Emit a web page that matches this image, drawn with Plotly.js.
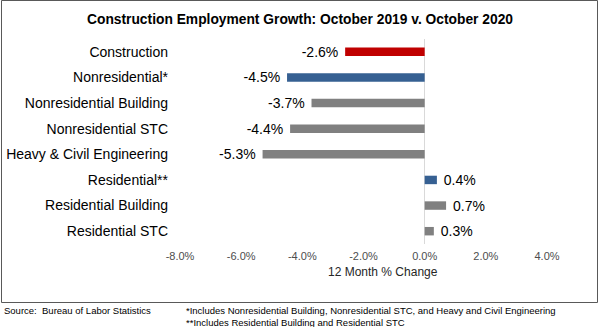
<!DOCTYPE html>
<html>
<head>
<meta charset="utf-8">
<script src="https://cdn.plot.ly/plotly-3.0.1.min.js"></script>
<style>
  html, body { margin: 0; padding: 0; background: #ffffff; }
  #chart { width: 600px; height: 327px; }
</style>
</head>
<body>
<div id="chart"></div>
<script>
// ---- Data ----
const categories = [
  'Construction',
  'Nonresidential*',
  'Nonresidential Building',
  'Nonresidential STC',
  'Heavy & Civil Engineering',
  'Residential**',
  'Residential Building',
  'Residential STC'
];
const values = [-2.6, -4.5, -3.7, -4.4, -5.3, 0.4, 0.7, 0.3];
const groups = ['total', 'sector', 'sub', 'sub', 'sub', 'sector', 'sub', 'sub'];
const tickVals = [-8, -6, -4, -2, 0, 2, 4];

const titleText = 'Construction Employment Growth: October 2019 v. October 2020';
const xTitleText = '12 Month % Change';
const sourceText = 'Source:  Bureau of Labor Statistics';
const note1Text = '*Includes Nonresidential Building, Nonresidential STC, and Heavy and Civil Engineering';
const note2Text = '**Includes Residential Building and Residential STC';

// ---- Styling ----
const groupColors = { total: '#C00000', sector: '#366092', sub: '#808080' };
const FONT = '"Liberation Sans", Arial, sans-serif';

const barColors = groups.map(g => groupColors[g]);
const barText = values.map(v => {
  const s = v.toFixed(1) + '%';
  return v < 0 ? s + '\u00a0' : '\u00a0' + s;
});
const tickText = tickVals.map(v => v.toFixed(1) + '%');

// plot area geometry (pixels) for paper conversions
const W = 600, H = 327;
const mL = 180, mR = 53, mT = 39, mB = 83;
const pw = W - mL - mR, ph = H - mT - mB;
const px = x => (x - mL) / pw;
const py = y => (H - mB - y) / ph;

const trace = {
  type: 'bar',
  orientation: 'h',
  y: categories,
  x: values,
  width: 0.33,
  marker: { color: barColors, line: { width: 0 } },
  text: barText,
  textposition: 'outside',
  constraintext: 'none',
  cliponaxis: false,
  textfont: { family: FONT, size: 14, color: '#000000' },
  hoverinfo: 'none'
};

const layout = {
  width: W,
  height: H,
  margin: { l: mL, r: mR, t: mT, b: mB, pad: 0 },
  paper_bgcolor: '#ffffff',
  plot_bgcolor: '#ffffff',
  showlegend: false,
  font: { family: FONT, color: '#000000' },
  title: {
    text: '<b>' + titleText + '</b>',
    font: { family: FONT, size: 13.8, color: '#000000' },
    xref: 'paper',
    x: px(300),
    xanchor: 'center',
    yref: 'container',
    y: 1 - 19 / H,
    yanchor: 'middle'
  },
  xaxis: {
    range: [-8, 4],
    tickmode: 'array',
    tickvals: tickVals,
    ticktext: tickText,
    ticks: '',
    ticklabelstandoff: 4,
    showgrid: false,
    showline: false,
    zeroline: true,
    zerolinecolor: '#d9d9d9',
    zerolinewidth: 1,
    tickfont: { family: FONT, size: 11, color: '#4d4d4d' },
    fixedrange: true
  },
  yaxis: {
    type: 'category',
    autorange: 'reversed',
    ticks: '',
    showgrid: false,
    showline: false,
    zeroline: false,
    ticklabelstandoff: 11,
    tickfont: { family: FONT, size: 14, color: '#000000' },
    fixedrange: true
  },
  shapes: [
    {
      type: 'rect',
      xref: 'paper', yref: 'paper',
      x0: px(1.5), x1: px(597.5),
      y0: py(302.5), y1: py(0.5),
      line: { color: '#595959', width: 1 },
      fillcolor: 'rgba(0,0,0,0)',
      layer: 'below'
    }
  ],
  annotations: [
    {
      text: xTitleText, xref: 'paper', yref: 'paper',
      x: px(382.5), y: py(272), xanchor: 'center', yanchor: 'middle',
      showarrow: false, font: { family: FONT, size: 12, color: '#262626' }
    },
    {
      text: sourceText, xref: 'paper', yref: 'paper',
      x: px(2), y: py(310), xanchor: 'left', yanchor: 'middle',
      showarrow: false, font: { family: FONT, size: 9.5, color: '#000000' }
    },
    {
      text: note1Text, xref: 'paper', yref: 'paper',
      x: px(184), y: py(310), xanchor: 'left', yanchor: 'middle',
      showarrow: false, font: { family: FONT, size: 9.5, color: '#000000' }
    },
    {
      text: note2Text, xref: 'paper', yref: 'paper',
      x: px(184), y: py(322), xanchor: 'left', yanchor: 'middle',
      showarrow: false, font: { family: FONT, size: 9.5, color: '#000000' }
    }
  ]
};

Plotly.newPlot('chart', [trace], layout, { displayModeBar: false, staticPlot: true });
</script>
</body>
</html>
